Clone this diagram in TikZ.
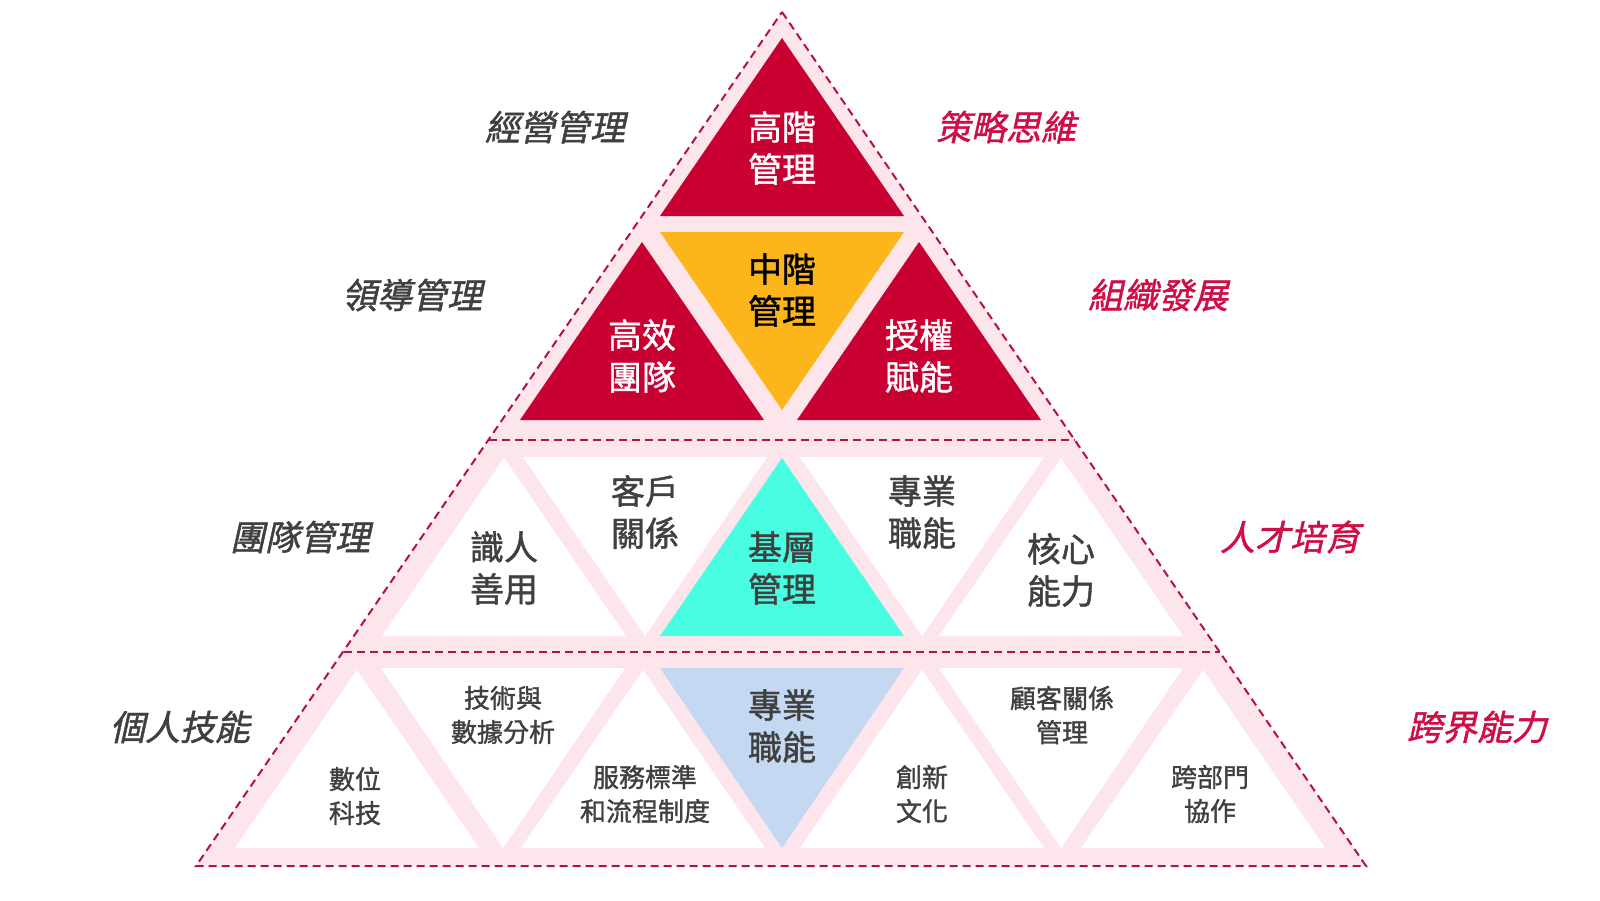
\documentclass[tikz,border=0pt]{standalone}
\usepackage{fontspec}
\newfontfamily\cjk{Noto Sans CJK TC}[FakeBold=1.3]
\newfontfamily\cjksl{Noto Sans CJK TC}[FakeSlant=0.22,FakeBold=1.3]
\definecolor{pk}{HTML}{FDE5EC}
\definecolor{rd}{HTML}{C90032}
\definecolor{yl}{HTML}{FCB61B}
\definecolor{cy}{HTML}{48FDE2}
\definecolor{bl}{HTML}{C5D8F2}
\definecolor{dk}{HTML}{404040}
\definecolor{dr}{HTML}{B3133F}
\definecolor{sr}{HTML}{D00E46}
\begin{document}
\begin{tikzpicture}[x=1pt,y=-1pt,
  dl/.style={draw=dr,line width=2pt,dash pattern=on 8pt off 5pt},
  big/.style={font=\cjk\fontsize{34}{42}\selectfont,align=center,text=dk},
  sm/.style={font=\cjk\fontsize{26}{34}\selectfont,align=center,text=dk},
  side/.style={font=\cjksl\fontsize{35}{38}\selectfont,text=dk},
  sider/.style={font=\cjksl\fontsize{35}{38}\selectfont,text=sr}]
\useasboundingbox (0,0) rectangle (1600,900);
\fill[white] (0,0) rectangle (1600,900);
\fill[pk] (782,12) -- (1366,866) -- (196,866) -- cycle;
\newcommand{\upT}[4]{\fill[#4] (#1-122,#3) -- (#1+122,#3) -- (#1,#2) -- cycle;}
\newcommand{\dnT}[4]{\fill[#4] (#1-122,#2) -- (#1+122,#2) -- (#1,#3) -- cycle;}
\upT{782}{38}{216}{rd}
\upT{642}{242}{420}{rd}
\dnT{782}{232}{410}{yl}
\upT{919}{242}{420}{rd}
\upT{504}{458}{636}{white}
\dnT{645}{457}{636}{white}
\upT{782}{458}{636}{cy}
\dnT{922}{457}{636}{white}
\upT{1061}{458}{636}{white}
\upT{357}{670}{848}{white}
\dnT{503}{668}{848}{white}
\upT{643}{670}{848}{white}
\dnT{782}{668}{848}{bl}
\upT{922}{670}{848}{white}
\dnT{1061}{668}{848}{white}
\upT{1203}{670}{848}{white}
\draw[dl] (782,12) -- (1366,866) -- (196,866) -- cycle;
\draw[dl] (489,440) -- (1075,440);
\draw[dl] (344,652) -- (1220,652);
\node[big,text=white] (t1) at (782,148) {高階\\管理};
\node[big,text=black] (t2) at (782,290) {中階\\管理};
\node[big,text=white] (t3) at (642,356) {高效\\團隊};
\node[big,text=white] (t4) at (919,356) {授權\\賦能};
\node[big] (t5) at (504,568) {識人\\善用};
\node[big] (t6) at (645,512) {客戶\\關係};
\node[big] (t7) at (782,568) {基層\\管理};
\node[big] (t8) at (922,512) {專業\\職能};
\node[big] (t9) at (1061,570) {核心\\能力};
\node[sm] (u1) at (355,796) {數位\\科技};
\node[sm] (u2) at (503,715) {技術與\\數據分析};
\node[sm] (u3) at (645,794) {服務標準\\和流程制度};
\node[big] (u4) at (782,726) {專業\\職能};
\node[sm] (u5) at (922,794) {創新\\文化};
\node[sm] (u6) at (1062,715) {顧客關係\\管理};
\node[sm] (u7) at (1210,794) {跨部門\\協作};
\node[side] (s1) at (555,127) {經營管理};
\node[sider] (s2) at (1006,127) {策略思維};
\node[side] (s3) at (412,295) {領導管理};
\node[sider] (s4) at (1158,295) {組織發展};
\node[side] (s5) at (300,537) {團隊管理};
\node[sider] (s6) at (1290,537) {人才培育};
\node[side] (s7) at (180,727) {個人技能};
\node[sider] (s8) at (1477,727) {跨界能力};
\end{tikzpicture}
\end{document}
